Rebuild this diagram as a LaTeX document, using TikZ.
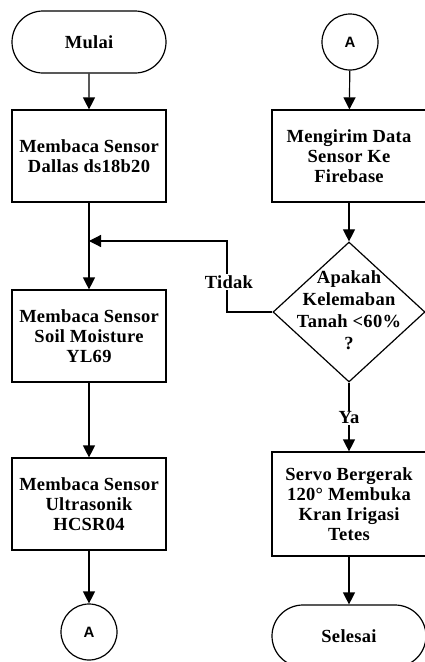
\documentclass[tikz,border=0pt]{standalone}
\usepackage{fontspec}
\setmainfont{Liberation Serif}[LetterSpace=1.5]
\newfontfamily\konfont{Liberation Sans}
\usetikzlibrary{shapes.misc,shapes.geometric,arrows.meta}

\tikzset{
  flow/.style={line width=1.2pt, -{Triangle[width=12pt,length=12pt]}},
  teks/.style={font=\bfseries\fontsize{18.5}{20}\selectfont, align=center},
  terminal/.style={teks, draw, line width=1.2pt, rounded rectangle,
    minimum width=154pt, minimum height=62pt, inner sep=0pt},
  proses/.style={teks, draw, line width=1.2pt, rectangle,
    minimum width=154pt, minimum height=92pt, inner sep=0pt},
  keputusan/.style={draw, line width=1.2pt, diamond,
    minimum width=152pt, minimum height=140pt, inner sep=0pt},
  konektor/.style={draw, line width=1.2pt, circle, minimum size=56pt,
    inner sep=0pt, font=\konfont\bfseries\fontsize{15}{15}\selectfont},
  jawab/.style={teks, fill=white, inner sep=1pt}
}

\begin{document}
\begin{tikzpicture}[x=1pt, y=-1pt]
  \useasboundingbox (0, 0) rectangle (425, 662);

  %A: Kolom kiri
  \node[terminal] (mulai) at (89, 42) {Mulai};
  \node[proses] (dallas) at (89, 156) {Membaca Sensor\\Dallas ds18b20};
  \node[proses] (soil) at (89, 336) {Membaca Sensor\\Soil Moisture\\YL69};
  \node[proses] (ultra) at (89, 504) {Membaca Sensor\\Ultrasonik\\HCSR04};
  \node[konektor] (akiri) at (89, 632) {A};

  %A: Kolom kanan
  \node[konektor] (akanan) at (350, 42) {A};
  \node[proses] (kirim) at (349, 156) {Mengirim Data\\Sensor Ke\\Firebase};
  \node[keputusan] (cek) at (349, 312) {};
  \node[teks, font=\bfseries\fontsize{18.5}{22}\selectfont] (cekteks)
    at (349, 310) {Apakah\\Kelemaban\\Tanah <60\%\\?};
  \node[proses, minimum height=104pt] (servo) at (349, 504)
    {Servo Bergerak\\120° Membuka\\Kran Irigasi\\Tetes};
  \node[terminal] (selesai) at (349, 636) {Selesai};

  \coordinate (gabung) at (89, 241);
  \coordinate (belok) at (227, 241);

  %A: Garis alir
  \draw[flow] (mulai) -- (dallas);
  \draw[flow] (dallas) -- (soil);
  \draw[flow] (soil) -- (ultra);
  \draw[flow] (ultra) -- (akiri);
  \draw[flow] (akanan) -- (kirim);
  \draw[flow] (kirim) -- (cek);
  \draw[flow] (cek) -- (servo);
  \draw[flow] (servo) -- (selesai);
  \draw[flow] (cek.west) -| (belok) -- (gabung);

  %A: Label jawaban
  \node[jawab] (tidak) at (229, 282) {Tidak};
  \node[jawab] (ya) at (349, 418) {Ya};
\end{tikzpicture}
\end{document}
